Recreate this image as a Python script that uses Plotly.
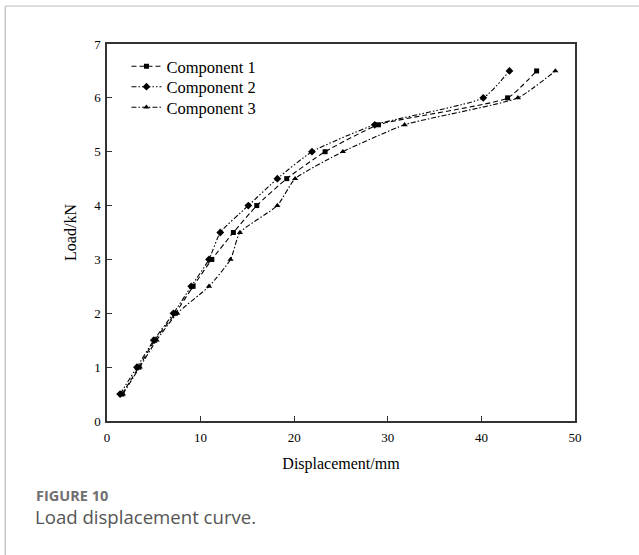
import plotly.graph_objects as go

load = [0.5, 1.0, 1.5, 2.0, 2.5, 3.0, 3.5, 4.0, 4.5, 5.0, 5.5, 6.0, 6.5]
disp_c1 = [1.6, 3.4, 5.1, 7.3, 9.2, 11.2, 13.5, 16.0, 19.2, 23.3, 29.0, 42.8, 45.9]
disp_c2 = [1.4, 3.2, 5.0, 7.1, 9.0, 10.9, 12.1, 15.1, 18.2, 21.9, 28.6, 40.2, 43.0]
disp_c3 = [1.7, 3.5, 5.3, 7.5, 10.9, 13.2, 14.2, 18.2, 20.1, 25.2, 31.8, 43.9, 47.9]
names = ["Component 1", "Component 2", "Component 3"]
x_ticks = [0, 10, 20, 30, 40, 50]
y_ticks = [0, 1, 2, 3, 4, 5, 6, 7]

W, H = 639, 555
L, R, T, B = 106.5, 63.5, 43.5, 134.3
pw, ph = W - L - R, H - T - B

def px2paper_x(p):
    return (p - L) / pw

def px2paper_y(p):
    return (H - B - p) / ph

serif = "Liberation Serif, Times New Roman, serif"
styles = [
    dict(dash="5px,3px", symbol="square", size=5),
    dict(dash="5px,2px,1.5px,2px,1.5px,2px", symbol="diamond", size=6),
    dict(dash="5px,2px,1.5px,2px", symbol="triangle-up", size=5.5),
]
legend_ids = ["legend", "legend2", "legend3"]
legend_rows = [66, 86.5, 107]

fig = go.Figure()
for nm, xs, st, lg in zip(names, [disp_c1, disp_c2, disp_c3], styles, legend_ids):
    fig.add_trace(go.Scatter(
        x=xs, y=load, name=nm, mode="lines+markers", legend=lg,
        line=dict(color="black", width=1.1, dash=st["dash"], shape="spline", smoothing=0.5),
        marker=dict(symbol=st["symbol"], size=st["size"], color="black"),
    ))

axis_common = dict(
    showgrid=False, zeroline=False, showline=True, linecolor="#333", linewidth=1.5,
    mirror=True, ticks="inside", ticklen=5, tickwidth=1.2, tickcolor="#333",
    tickfont=dict(family=serif, size=13, color="black"),
)
fig.update_xaxes(range=[0, 50], tickvals=x_ticks, ticklabelstandoff=4,
                 title=dict(text="Displacement/mm",
                            font=dict(family=serif, size=16, color="black"), standoff=13),
                 **axis_common)
fig.update_yaxes(range=[0, 7], tickvals=y_ticks, ticklabelstandoff=2,
                 title=dict(text="Load/kN",
                            font=dict(family=serif, size=16, color="black"), standoff=14),
                 **axis_common)

shapes = [
    dict(type="line", xref="paper", yref="paper", x0=px2paper_x(4.5), x1=px2paper_x(W + 5),
         y0=px2paper_y(5.5), y1=px2paper_y(5.5), line=dict(color="#bbb", width=1.2)),
    dict(type="line", xref="paper", yref="paper", x0=px2paper_x(4.5), x1=px2paper_x(4.5),
         y0=px2paper_y(5.5), y1=px2paper_y(H + 5), line=dict(color="#bbb", width=1.2)),
]

annotations = [
    dict(text="<b>FIGURE 10</b>", xref="paper", yref="paper", x=px2paper_x(33), y=px2paper_y(495),
         xanchor="left", yanchor="middle", showarrow=False,
         font=dict(family="Open Sans, sans-serif", size=14.5, color="#707070")),
    dict(text="Load displacement curve.", xref="paper", yref="paper", x=px2paper_x(32),
         y=px2paper_y(516), xanchor="left", yanchor="middle", showarrow=False,
         font=dict(family="Open Sans, sans-serif", size=18.6, color="#555")),
]

legend_style = dict(xanchor="left", yanchor="middle", bgcolor="rgba(0,0,0,0)",
                    font=dict(family=serif, size=16.5, color="black"), itemwidth=30)
layout_legends = {}
for lg, row in zip(legend_ids, legend_rows):
    layout_legends[lg] = dict(x=px2paper_x(126), y=px2paper_y(row), **legend_style)

fig.update_layout(
    width=W, height=H, margin=dict(l=L, r=R, t=T, b=B, pad=0),
    paper_bgcolor="white", plot_bgcolor="white",
    showlegend=True,
    shapes=shapes, annotations=annotations,
    **layout_legends,
)

fig.write_html("out.html", config={"displayModeBar": False},
               post_script="document.body.style.margin='0';document.body.style.padding='0';")
